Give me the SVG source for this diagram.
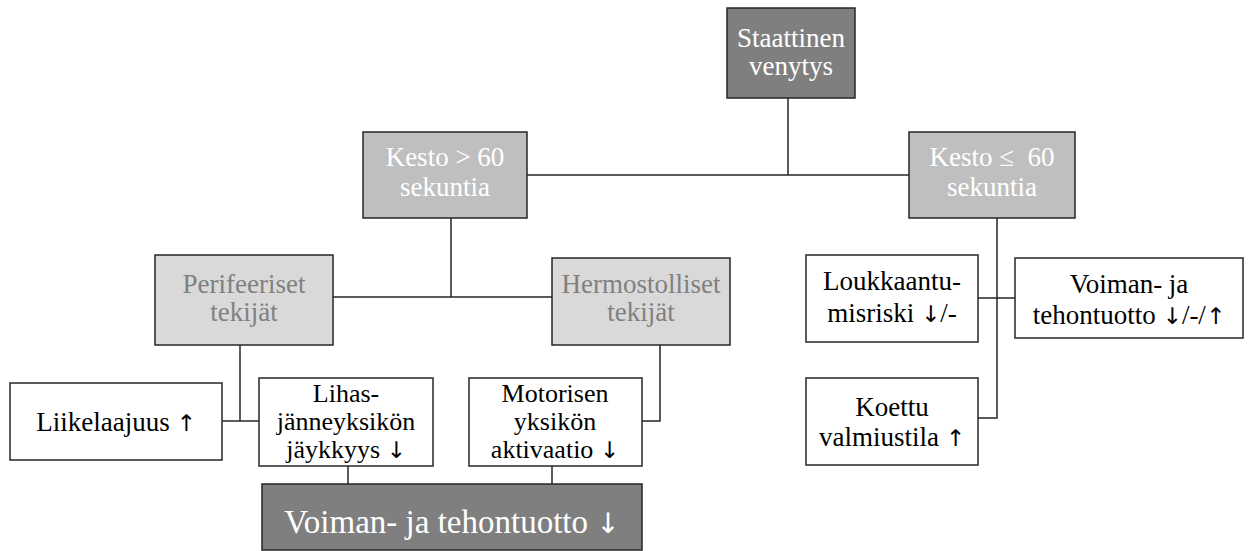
<svg xmlns="http://www.w3.org/2000/svg" width="1250" height="551" viewBox="0 0 1250 551">
<style>
.b{stroke:#262626;stroke-width:1.5}
.d{fill:#7f7f7f}
.m{fill:#bfbfbf}
.l{fill:#d9d9d9}
.w{fill:#ffffff}
text{font-family:"Liberation Serif","Times New Roman",serif;font-size:27px;text-anchor:middle}
.s3{font-size:26px}
.ar{font-family:"DejaVu Sans",sans-serif;font-size:23px}
.tw{fill:#ffffff}
.tg{fill:#808080}
.tk{fill:#000000}
.c{stroke:#262626;stroke-width:1.5;fill:none}
</style>
<rect width="1250" height="551" fill="#ffffff"/>
<g id="connectors">
<polyline class="c" points="788,98 788,175"/>
<polyline class="c" points="527,175 909,175"/>
<polyline class="c" points="451,218 451,297"/>
<polyline class="c" points="333,297 552,297"/>
<polyline class="c" points="240,345 240,421"/>
<polyline class="c" points="222,421 259,421"/>
<polyline class="c" points="660,345 660,421 642,421"/>
<polyline class="c" points="348,466 348,484"/>
<polyline class="c" points="552,466 552,484"/>
<polyline class="c" points="997,218 997,418 978,418"/>
<polyline class="c" points="978,298 1015,298"/>
</g>
<g id="n_staattinen">
<rect class="b d" x="727" y="8" width="128" height="90"/>
<text class="tw" x="791" y="47">Staattinen</text>
<text class="tw" x="791" y="75">venytys</text>
</g>
<g id="n_kesto_gt">
<rect class="b m" x="363" y="132" width="164" height="86"/>
<text class="tw" x="445" y="166">Kesto &gt; 60</text>
<text class="tw" x="445" y="196">sekuntia</text>
</g>
<g id="n_kesto_le">
<rect class="b m" x="909" y="132" width="166" height="86"/>
<text class="tw" x="992" y="166">Kesto ≤&#160; 60</text>
<text class="tw" x="992" y="196">sekuntia</text>
</g>
<g id="n_perifeeriset">
<rect class="b l" x="155" y="255" width="178" height="90"/>
<text class="tg" x="244" y="293">Perifeeriset</text>
<text class="tg" x="244" y="321">tekijät</text>
</g>
<g id="n_hermostolliset">
<rect class="b l" x="552" y="258" width="178" height="87"/>
<text class="tg" x="641" y="293">Hermostolliset</text>
<text class="tg" x="641" y="321">tekijät</text>
</g>
<g id="n_loukkaantumisriski">
<rect class="b w" x="806" y="255" width="172" height="87"/>
<text class="tk" x="892" y="290">Loukkaantu-</text>
<text class="tk" x="892" y="322">misriski <tspan class="ar">↓</tspan>/-</text>
</g>
<g id="n_voiman_right">
<rect class="b w" x="1015" y="258" width="228" height="80"/>
<text class="tk" x="1129" y="293">Voiman- ja</text>
<text class="tk" x="1129" y="324">tehontuotto <tspan class="ar">↓</tspan>/-/<tspan class="ar">↑</tspan></text>
</g>
<g id="n_koettu">
<rect class="b w" x="806" y="378" width="172" height="87"/>
<text class="tk" x="892" y="416">Koettu</text>
<text class="tk" x="892" y="446">valmiustila <tspan class="ar">↑</tspan></text>
</g>
<g id="n_liikelaajuus">
<rect class="b w" x="10" y="383" width="212" height="77"/>
<text class="tk" x="116" y="431">Liikelaajuus <tspan class="ar">↑</tspan></text>
</g>
<g id="n_lihas">
<rect class="b w" x="259" y="378" width="174" height="88"/>
<text class="tk s3" x="346" y="402">Lihas-</text>
<text class="tk s3" x="346" y="430">jänneyksikön</text>
<text class="tk s3" x="346" y="458">jäykkyys <tspan class="ar">↓</tspan></text>
</g>
<g id="n_motorisen">
<rect class="b w" x="469" y="378" width="173" height="88"/>
<text class="tk s3" x="555" y="402">Motorisen</text>
<text class="tk s3" x="555" y="430">yksikön</text>
<text class="tk s3" x="555" y="458">aktivaatio <tspan class="ar">↓</tspan></text>
</g>
<g id="n_voiman_bottom">
<rect class="b d" x="262" y="484" width="380" height="66"/>
<text class="tw" x="452" y="533" style="font-size:33px">Voiman- ja tehontuotto <tspan class="ar" style="font-size:28px">↓</tspan></text>
</g>
</svg>
